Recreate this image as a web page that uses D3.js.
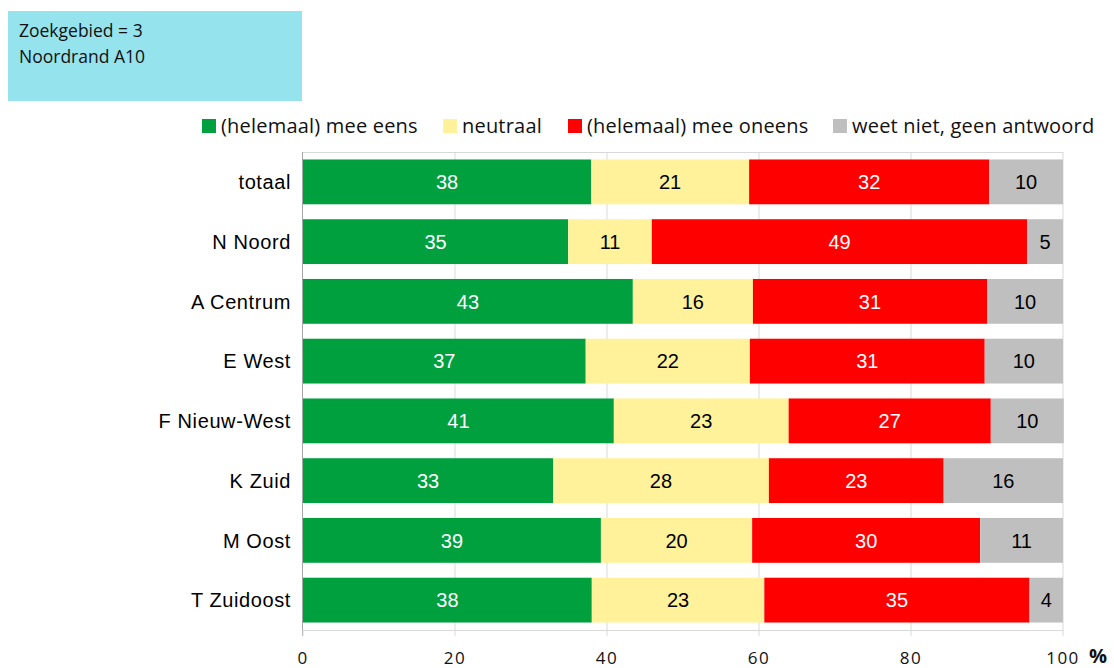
<!DOCTYPE html>
<html>
<head>
<meta charset="utf-8">
<script src="https://cdn.jsdelivr.net/npm/d3@7"></script>
<style>
  body { margin: 0; background: #fff; }
</style>
</head>
<body>
<svg id="chart" width="1114" height="668"></svg>
<script>
// Data
const categories = ["totaal", "N Noord", "A Centrum", "E West", "F Nieuw-West", "K Zuid", "M Oost", "T Zuidoost"];
const seriesNames = ["(helemaal) mee eens", "neutraal", "(helemaal) mee oneens", "weet niet, geen antwoord"];
const meeEens   = [37.9, 34.9, 43.4, 37.2, 40.9, 32.9, 39.2, 38.0];
const neutraal  = [20.8, 11.0, 15.8, 21.6, 23.0, 28.4, 19.9, 22.7];
const meeOneens = [31.6, 49.4, 30.8, 30.9, 26.6, 23.0, 30.0, 34.9];
const weetNiet  = [9.7, 4.7, 10.0, 10.3, 9.6, 15.7, 10.9, 4.4];
const xTicks = [0, 20, 40, 60, 80, 100];
const infoLines = ["Zoekgebied = 3", "Noordrand A10"];

const colors = ["#00A03E", "#FFF29A", "#FF0000", "#BFBFBF"];
const textColors = ["#ffffff", "#000000", "#ffffff", "#000000"];

const rows = categories.map((c, i) => ({
  cat: c,
  vals: [meeEens[i], neutraal[i], meeOneens[i], weetNiet[i]]
}));

const margin = { top: 152, right: 50, bottom: 38, left: 303 };
const width = 1114, height = 668;

const svg = d3.select("#chart");

// Info box
svg.append("rect")
  .attr("x", 8).attr("y", 11)
  .attr("width", 294).attr("height", 90)
  .attr("fill", "#95E3EC");

infoLines.forEach((t, i) => {
  svg.append("text")
    .attr("x", 19).attr("y", 37 + i * 26)
    .attr("font-family", "'Open Sans', sans-serif")
    .attr("font-size", "17.5px")
    .attr("fill", "#111")
    .text(t);
});

// Scales
const xScale = d3.scaleLinear()
  .domain([0, 100])
  .range([margin.left, 1063]);

const yScale = d3.scaleBand()
  .domain(categories)
  .range([margin.top, height - margin.bottom])
  .paddingInner(0.25)
  .paddingOuter(0.125);

const plotBottom = height - margin.bottom;

// Gridlines
svg.append("g")
  .selectAll("line")
  .data(xTicks.slice(1))
  .join("line")
  .attr("x1", d => xScale(d)).attr("x2", d => xScale(d))
  .attr("y1", margin.top).attr("y2", plotBottom)
  .attr("stroke", "#d9d9d9")
  .attr("stroke-width", 1);

// Frame (top / bottom)
svg.append("line")
  .attr("x1", margin.left).attr("x2", xScale(100))
  .attr("y1", margin.top + 0.5).attr("y2", margin.top + 0.5)
  .attr("stroke", "#d9d9d9");
svg.append("line")
  .attr("x1", margin.left).attr("x2", xScale(100))
  .attr("y1", plotBottom + 0.5).attr("y2", plotBottom + 0.5)
  .attr("stroke", "#d9d9d9");

// Stacked bars
const stack = rows.map(r => {
  let acc = 0;
  return r.vals.map((v, k) => {
    const seg = { cat: r.cat, k, v, x0: acc, x1: acc + v };
    acc += v;
    return seg;
  });
});

const barGroup = svg.append("g");
stack.forEach(segs => {
  segs.forEach(s => {
    barGroup.append("rect")
      .attr("x", xScale(s.x0))
      .attr("y", yScale(s.cat))
      .attr("width", Math.max(0, xScale(s.x1) - xScale(s.x0)))
      .attr("height", yScale.bandwidth())
      .attr("fill", colors[s.k]);

    barGroup.append("text")
      .attr("x", (xScale(s.x0) + xScale(s.x1)) / 2)
      .attr("y", yScale(s.cat) + yScale.bandwidth() / 2)
      .attr("dy", "0.36em")
      .attr("text-anchor", "middle")
      .attr("font-family", "'Liberation Sans', Arial, sans-serif")
      .attr("font-size", "20px")
      .attr("fill", textColors[s.k])
      .text(Math.round(s.v));
  });
});

// Left axis line
svg.append("line")
  .attr("x1", margin.left - 0.5).attr("x2", margin.left - 0.5)
  .attr("y1", margin.top).attr("y2", plotBottom + 6)
  .attr("stroke", "#a6a6a6");

// Category labels
svg.append("g")
  .selectAll("text")
  .data(categories)
  .join("text")
  .attr("x", 291)
  .attr("y", d => yScale(d) + yScale.bandwidth() / 2)
  .attr("dy", "0.36em")
  .attr("text-anchor", "end")
  .attr("font-family", "'Liberation Sans', Arial, sans-serif")
  .attr("font-size", "20px")
  .attr("letter-spacing", "0.6px")
  .attr("fill", "#000")
  .text(d => d);

// X tick marks + labels
svg.append("g")
  .selectAll("line")
  .data(xTicks)
  .join("line")
  .attr("x1", d => xScale(d)).attr("x2", d => xScale(d))
  .attr("y1", plotBottom).attr("y2", plotBottom + 6)
  .attr("stroke", "#d9d9d9");

svg.append("g")
  .selectAll("text")
  .data(xTicks)
  .join("text")
  .attr("x", d => xScale(d))
  .attr("y", 664)
  .attr("text-anchor", "middle")
  .attr("font-family", "'Open Sans', sans-serif")
  .attr("font-size", "17px")
  .attr("letter-spacing", "1.5px")
  .attr("fill", "#111")
  .text(d => d);

svg.append("text")
  .attr("x", 1098).attr("y", 663)
  .attr("text-anchor", "middle")
  .attr("font-family", "'Open Sans', sans-serif")
  .attr("font-weight", "bold")
  .attr("font-size", "20px")
  .attr("fill", "#111")
  .text("%");

// Legend
const legendX = [202, 443, 568, 833];
seriesNames.forEach((name, i) => {
  svg.append("rect")
    .attr("x", legendX[i]).attr("y", 119)
    .attr("width", 14).attr("height", 14)
    .attr("fill", colors[i]);
  svg.append("text")
    .attr("x", legendX[i] + 19).attr("y", 133)
    .attr("font-family", "'Open Sans', sans-serif")
    .attr("font-size", "20px")
    .attr("letter-spacing", "0.2px")
    .attr("fill", "#111")
    .text(name);
});
</script>
</body>
</html>
